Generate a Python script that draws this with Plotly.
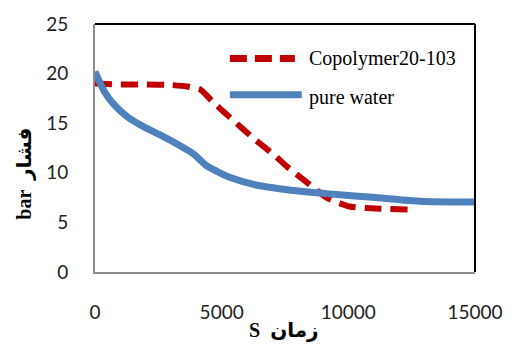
import plotly.graph_objects as go

# Data
copoly_t = [0, 1000, 2000, 3000, 3630, 4150, 4670, 5320, 6290, 7070, 7590, 8480, 9140, 10040, 11090, 12370]
copoly_p = [19.0, 18.9, 18.9, 18.85, 18.7, 18.4, 17.1, 15.6, 13.4, 11.8, 10.6, 8.8, 7.5, 6.6, 6.4, 6.3]
water_t = [0, 390, 780, 1300, 1950, 2590, 3240, 3890, 4410, 4930, 5370, 6300, 7590, 9140, 11090, 13040, 15000]
water_p = [20.2, 18.1, 16.8, 15.6, 14.6, 13.8, 12.9, 11.9, 10.7, 10.0, 9.5, 8.8, 8.3, 7.9, 7.5, 7.1, 7.05]
series_names = ["Copolymer20-103", "pure water"]
x_ticks = [0, 5000, 10000, 15000]
y_ticks = [0, 5, 10, 15, 20, 25]
x_title = "S  زمان"
y_title = "bar  فشار"

RED = "#C00000"
BLUE = "#4F81BD"

fig = go.Figure()
fig.add_trace(go.Scatter(x=copoly_t, y=copoly_p, mode="lines", name=series_names[0],
                         line=dict(color=RED, width=6, dash="17px,9px", shape="spline", smoothing=0.5),
                         showlegend=False))
fig.add_trace(go.Scatter(x=water_t, y=water_p, mode="lines", name=series_names[1],
                         line=dict(color=BLUE, width=7, shape="spline", smoothing=0.6),
                         showlegend=False))

L, R, T, B = 95, 481, 20, 272
W, H = 515, 347

def px(xp):
    return (xp - L) / (R - L)

def py(yp):
    return (B - yp) / (B - T)

# frame top/right (black)
fig.add_shape(type="line", xref="paper", yref="paper", x0=0, x1=1, y0=1, y1=1,
              line=dict(color="black", width=2))
fig.add_shape(type="line", xref="paper", yref="paper", x0=1, x1=1, y0=0, y1=1,
              line=dict(color="black", width=2))

# legend (manual)
fig.add_shape(type="line", xref="paper", yref="paper", x0=px(232), x1=px(298), y0=py(55), y1=py(55),
              line=dict(color=RED, width=7, dash="17px,8px"))
fig.add_shape(type="line", xref="paper", yref="paper", x0=px(232), x1=px(305), y0=py(92), y1=py(92),
              line=dict(color=BLUE, width=7))
fig.add_annotation(xref="paper", yref="paper", x=px(310), y=py(55), text=series_names[0],
                   showarrow=False, xanchor="left", yanchor="middle",
                   font=dict(family="Liberation Serif", size=20, color="black"))
fig.add_annotation(xref="paper", yref="paper", x=px(310), y=py(95), text=series_names[1],
                   showarrow=False, xanchor="left", yanchor="middle",
                   font=dict(family="Liberation Serif", size=20, color="black"))

# axis titles
fig.add_annotation(xref="paper", yref="paper", x=px(287), y=py(331), text="<b>" + x_title + "</b>",
                   showarrow=False, xanchor="center", yanchor="middle",
                   font=dict(family="Liberation Serif, DejaVu Sans", size=20, color="black"))
fig.add_annotation(xref="paper", yref="paper", x=px(23), y=py(172), text="<b>" + y_title + "</b>",
                   showarrow=False, xanchor="center", yanchor="middle", textangle=-90,
                   font=dict(family="Liberation Serif, DejaVu Sans", size=20, color="black"))

tickfont = dict(family="Lato, Open Sans, sans-serif", size=19, color="#222222")
fig.update_xaxes(range=[0, 15000], tickvals=x_ticks, ticktext=[str(v) for v in x_ticks],
                 showgrid=False, zeroline=False, showline=True, linecolor="#8c8c8c", linewidth=2,
                 ticks="", ticklabelstandoff=22, tickfont=tickfont)
fig.update_yaxes(range=[0, 25], tickvals=y_ticks, ticktext=[str(v) for v in y_ticks],
                 showgrid=False, zeroline=False, showline=True, linecolor="#8c8c8c", linewidth=2,
                 ticks="", ticklabelstandoff=21, tickfont=tickfont)

fig.update_layout(width=W, height=H, margin=dict(l=L, r=W - R, t=T, b=H - B, pad=0),
                  plot_bgcolor="white", paper_bgcolor="white", showlegend=False)

fig.write_html("out.html")
